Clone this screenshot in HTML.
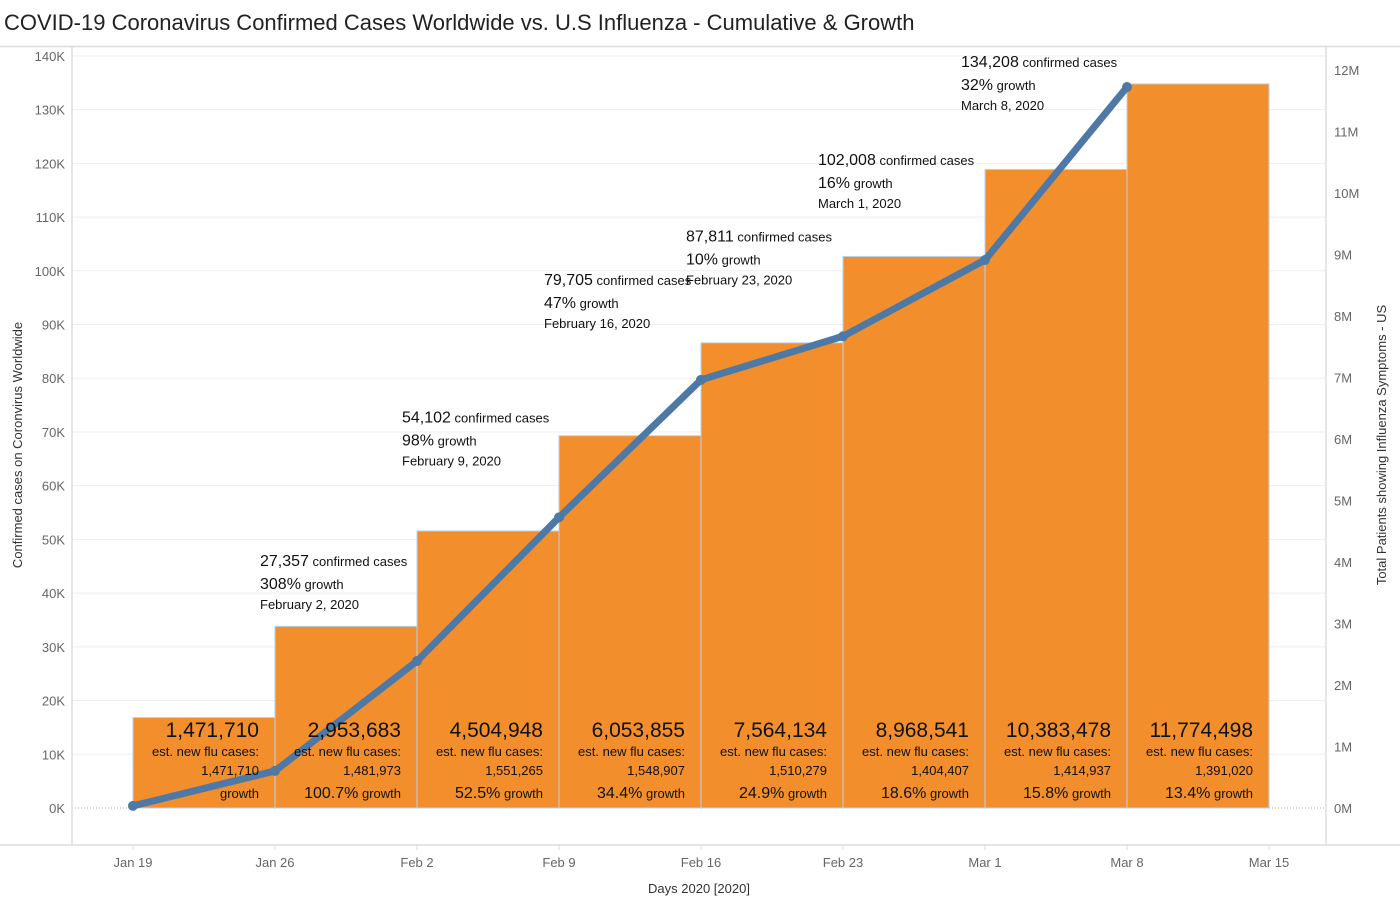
<!DOCTYPE html>
<html><head><meta charset="utf-8">
<style>
html,body{margin:0;padding:0;background:#fff;}
body{width:1400px;height:906px;overflow:hidden;font-family:"Liberation Sans",sans-serif;}
svg text{font-family:"Liberation Sans",sans-serif;}
</style></head>
<body>
<svg id="chart" width="1400" height="906">
<text x="4" y="30" font-size="22" fill="#222">COVID-19 Coronavirus Confirmed Cases Worldwide vs. U.S Influenza - Cumulative &amp; Growth</text>
<line x1="0" y1="46.5" x2="1400" y2="46.5" stroke="#ddd" stroke-width="1.5"/>
<g id="grid"></g>
<g id="bars"></g>
<g id="line"></g>
<g id="labels"></g>
<g id="axes"></g>
</svg>
<script>
const categories = ["Jan 19","Jan 26","Feb 2","Feb 9","Feb 16","Feb 23","Mar 1","Mar 8","Mar 15"];
const fluCumulative = [1471710,2953683,4504948,6053855,7564134,8968541,10383478,11774498];
const fluNew = ["1,471,710","1,481,973","1,551,265","1,548,907","1,510,279","1,404,407","1,414,937","1,391,020"];
const fluGrowth = ["","100.7%","52.5%","34.4%","24.9%","18.6%","15.8%","13.4%"];
const covidCases = [400,6900,27357,54102,79705,87811,102008,134208];
const covidGrowth = ["","","308%","98%","47%","10%","16%","32%"];
const covidDates = ["","","February 2, 2020","February 9, 2020","February 16, 2020","February 23, 2020","March 1, 2020","March 8, 2020"];
const leftTicks = [0,10,20,30,40,50,60,70,80,90,100,110,120,130,140];
const rightTicks = [0,1,2,3,4,5,6,7,8,9,10,11,12];

const NS="http://www.w3.org/2000/svg";
function mk(parent,tag,attrs,text){const e=document.createElementNS(NS,tag);for(const k in attrs)e.setAttribute(k,attrs[k]);if(text!==undefined)e.textContent=text;document.getElementById(parent).appendChild(e);return e;}
const y0=808;
const yL=v=>y0-v/10000*53.72;
const yR=v=>y0-v/1000000*61.5;
const xD=i=>133+i*142;
const fmt=n=>n.toLocaleString("en-US");

// grid + left ticks
leftTicks.forEach(t=>{
  const y=yL(t*1000);
  if(t>0){const g=mk("grid","line",{x1:72,x2:1326,y1:y,y2:y,stroke:"#eee","stroke-width":1});
  
  }
  const tx=mk("axes","text",{x:65,y:y+5,"font-size":13,fill:"#666","text-anchor":"end"},t+"K");
  
  
});
rightTicks.forEach(t=>{
  const tx=mk("axes","text",{x:1334,y:yR(t*1e6)+5,"font-size":13,fill:"#666"},t+"M");
  
  
});
const zl=mk("grid","line",{x1:72,x2:1326,y1:y0,y2:y0,stroke:"#aaa","stroke-dasharray":"1,2"});


[["72","47","72","845"],["1326","47","1326","845"],["0","845","1400","845"]].forEach(a=>{
  const l=mk("axes","line",{x1:a[0],y1:a[1],x2:a[2],y2:a[3],stroke:"#ddd","stroke-width":1.5});
  
  
});
categories.forEach((c,i)=>{
  const tk=mk("axes","line",{x1:xD(i),x2:xD(i),y1:845,y2:850,stroke:"#ddd"});
  
  
  const tx=mk("axes","text",{x:xD(i),y:867,"font-size":13,fill:"#666","text-anchor":"middle"},c);
  
  
});
let t1=mk("axes","text",{x:699,y:893,"font-size":13,fill:"#333","text-anchor":"middle"},"Days 2020 [2020]");


let t2=mk("axes","text",{x:0,y:0,"font-size":13,fill:"#333","text-anchor":"middle",transform:"translate(22,445) rotate(-90)"},"Confirmed cases on Coronvirus Worldwide");


let t3=mk("axes","text",{x:0,y:0,"font-size":13,fill:"#333","text-anchor":"middle",transform:"translate(1386,445) rotate(-90)"},"Total Patients showing Influenza Symptoms - US");



// bars
fluCumulative.forEach((v,i)=>{
  const x=xD(i), w=142, y=yR(v);
  const r=mk("bars","rect",{x:x,y:y,width:w,height:y0-y,fill:"#f28e2b",stroke:"#b9d3ec","stroke-width":1});
  
  
  const xr=x+w-16;
  const a=mk("labels","text",{x:xr,y:737,"font-size":21,fill:"#111","text-anchor":"end"},fmt(v));
  
  
  const b=mk("labels","text",{x:xr,y:756,"font-size":13,fill:"#111","text-anchor":"end"},"est. new flu cases:");
  
  
  const c=mk("labels","text",{x:xr,y:775,"font-size":13,fill:"#111","text-anchor":"end"},fluNew[i]);
  
  
  const d=mk("labels","text",{x:xr,y:798,fill:"#111","text-anchor":"end"});
  
  
  d.innerHTML='<tspan font-size="16">'+fluGrowth[i]+'</tspan><tspan font-size="13"> growth</tspan>';
});

// line
const pts=covidCases.map((v,i)=>xD(i)+","+yL(v)).join(" ");
const pl=mk("line","polyline",{points:pts,fill:"none",stroke:"#4e79a7","stroke-width":7,"stroke-linejoin":"round","stroke-linecap":"round"});


covidCases.forEach((v,i)=>{
  const c=mk("line","circle",{cx:xD(i),cy:yL(v),r:5,fill:"#4e79a7"});
  
  
  if(!covidGrowth[i])return;
  let lx=xD(i)-157, ly=yL(v)-95;
  if(i===6){lx=xD(i)-167;}
  if(i===7){lx=xD(i)-166;ly=67;}
  const a=mk("labels","text",{x:lx,y:ly,fill:"#111"});
  
  
  a.innerHTML='<tspan font-size="16">'+fmt(v)+'</tspan><tspan font-size="13"> confirmed cases</tspan>';
  const b=mk("labels","text",{x:lx,y:ly+23,fill:"#111"});
  
  
  b.innerHTML='<tspan font-size="16">'+covidGrowth[i]+'</tspan><tspan font-size="13"> growth</tspan>';
  const d=mk("labels","text",{x:lx,y:ly+43,"font-size":13,fill:"#111"},covidDates[i]);
  
  
});
</script>
</body></html>
